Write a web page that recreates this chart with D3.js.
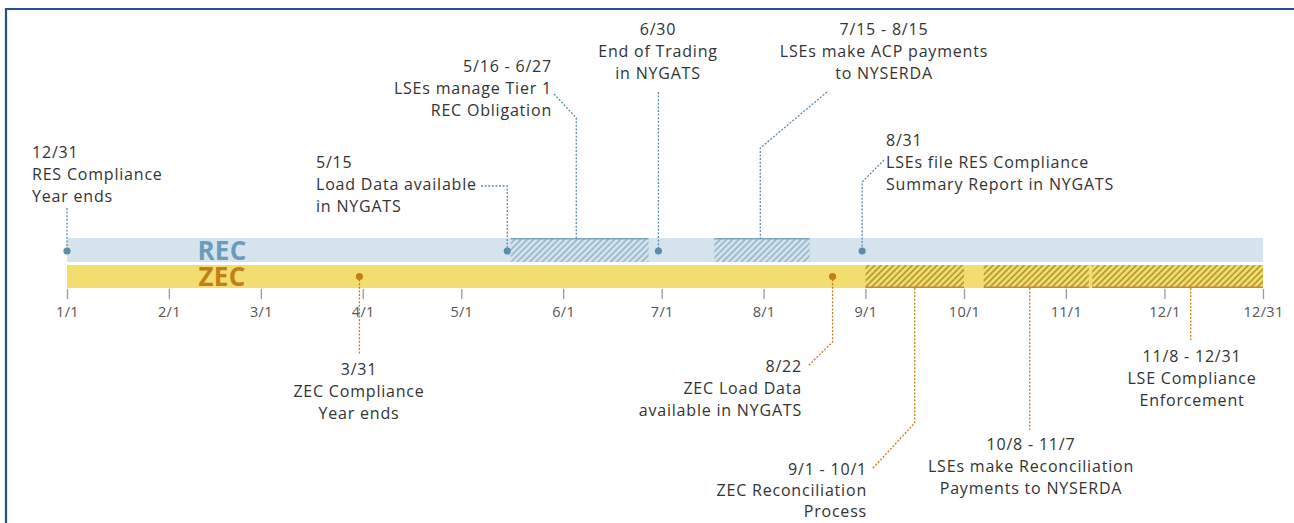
<!DOCTYPE html>
<html>
<head>
<meta charset="utf-8">
<script src="https://cdn.jsdelivr.net/npm/d3@7"></script>
<style>
  html, body { margin: 0; padding: 0; background: #fff; }
  svg { display: block; }
  text { font-family: "Open Sans", Lato, sans-serif; }
</style>
</head>
<body>
<svg id="chart" width="1294" height="523"></svg>
<script>
// ---------------- DATA ----------------
const YEAR = 2019;
const tickLabels = ["1/1","2/1","3/1","4/1","5/1","6/1","7/1","8/1","9/1","10/1","11/1","12/1","12/31"];
const trackNames = ["REC", "ZEC"];

// hatched periods (as drawn)
const recPeriodStarts = ["5/16", "7/17"];
const recPeriodEnds   = ["6/27", "8/15"];
const zecPeriodStarts = ["9/1", "10/7", "11/9"];
const zecPeriodEnds   = ["10/1", "11/8", "12/31"];

// milestone dots
const recPointDates = ["1/1", "5/15", "6/30", "8/31"];
const zecPointDates = ["3/31", "8/22"];

// annotations
const annotationDates = ["12/31", "5/15", "5/16 - 6/27", "6/30", "7/15 - 8/15", "8/31",
                         "3/31", "8/22", "9/1 - 10/1", "10/8 - 11/7", "11/8 - 12/31"];
const annotationTexts = [
  ["RES Compliance", "Year ends"],
  ["Load Data available", "in NYGATS"],
  ["LSEs manage Tier 1", "REC Obligation"],
  ["End of Trading", "in NYGATS"],
  ["LSEs make ACP payments", "to NYSERDA"],
  ["LSEs file RES Compliance", "Summary Report in NYGATS"],
  ["ZEC Compliance", "Year ends"],
  ["ZEC Load Data", "available in NYGATS"],
  ["ZEC Reconciliation", "Process"],
  ["LSEs make Reconciliation", "Payments to NYSERDA"],
  ["LSE Compliance", "Enforcement"]
];
const annotationTrack = ["REC","REC","REC","REC","REC","REC","ZEC","ZEC","ZEC","ZEC","ZEC"];
const leaderDates = ["1/1", "5/15", "6/5", "6/30", "7/31", "8/31", "3/31", "8/22", "9/16", "10/21", "12/9"];

// ---------------- LAYOUT ----------------
const md = s => { const [m, d] = s.split("/").map(Number); return new Date(YEAR, m - 1, d); };
const x = d3.scaleTime().domain([md("1/1"), md("12/31")]).range([67, 1263]);

const recY0 = 238, recY1 = 262, zecY0 = 265, zecY1 = 288;
const axisY = 289;
const colors = {
  recBar: "#d5e3ec", zecBar: "#f3dd6e",
  recText: "#6c9cbd", zecText: "#c27f16",
  recDot: "#5a8dab", zecDot: "#c47d17",
  recHatch: "#93b6cb", zecHatch: "#b0952a",
  recEdge: "#7ea5be", zecEdge: "#c48e22",
  text: "#333333", tick: "#9a9a9a", tickText: "#555", frame: "#24518c"
};

// text layout per annotation: [textX, firstLineCenterY, anchor, lineGap]
const textLayout = [
  [32, 152, "start", 22], [316, 162, "start", 22], [552, 66, "end", 22], [658, 29, "middle", 22],
  [884, 29, "middle", 22], [886, 140, "start", 22], [359, 369, "middle", 22], [802, 366, "end", 22],
  [867, 469, "end", 21], [1031, 444, "middle", 22], [1192, 356, "middle", 22]
];
// leader geometry: "L" = x of leader date
const leaderLayout = [
  [["L",208],["L",252]],
  [[481,186],["L",186],["L",252]],
  [[554,94],["L",118],["L",239]],
  [["L",92],["L",252]],
  [[827,92],["L",148],["L",239]],
  [[884,160],["L",182],["L",252]],
  [["L",276],["L",355]],
  [["L",276],["L",342],[808,366]],
  [["L",288],["L",423],[873,468]],
  [["L",288],["L",430]],
  [["L",288],["L",340]]
];

// ---------------- DRAW ----------------
const svg = d3.select("#chart");
const defs = svg.append("defs");
function hatch(id, bg, fg) {
  const p = defs.append("pattern").attr("id", id).attr("patternUnits", "userSpaceOnUse")
    .attr("width", 4.4).attr("height", 4.4).attr("patternTransform", "rotate(45)");
  p.append("rect").attr("width", 4.4).attr("height", 4.4).attr("fill", bg);
  p.append("line").attr("x1", 1).attr("y1", 0).attr("x2", 1).attr("y2", 4.4)
    .attr("stroke", fg).attr("stroke-width", 1.6);
}
hatch("recHatch", colors.recBar, colors.recHatch);
hatch("zecHatch", colors.zecBar, colors.zecHatch);

// frame
svg.append("path").attr("d", "M6,523 L6,9 L1294,9").attr("fill", "none")
  .attr("stroke", colors.frame).attr("stroke-width", 2.2);

// base bars
svg.append("rect").attr("x", x(md("1/1"))).attr("y", recY0)
  .attr("width", x(md("12/31")) - x(md("1/1"))).attr("height", recY1 - recY0).attr("fill", colors.recBar);
svg.append("rect").attr("x", x(md("1/1"))).attr("y", zecY0)
  .attr("width", x(md("12/31")) - x(md("1/1"))).attr("height", zecY1 - zecY0).attr("fill", colors.zecBar);

// hatched periods
recPeriodStarts.forEach((s, i) => {
  const x0 = x(md(s)), x1 = x(md(recPeriodEnds[i]));
  svg.append("rect").attr("x", x0).attr("y", recY0 + 1).attr("width", x1 - x0).attr("height", recY1 - recY0 - 1)
    .attr("fill", "url(#recHatch)");
  svg.append("line").attr("x1", x0).attr("x2", x1).attr("y1", recY0 + 0.75).attr("y2", recY0 + 0.75)
    .attr("stroke", colors.recEdge).attr("stroke-width", 1.5);
});
zecPeriodStarts.forEach((s, i) => {
  const x0 = x(md(s)), x1 = x(md(zecPeriodEnds[i]));
  svg.append("rect").attr("x", x0).attr("y", zecY0).attr("width", x1 - x0).attr("height", zecY1 - zecY0 - 1)
    .attr("fill", "url(#zecHatch)");
  svg.append("line").attr("x1", x0).attr("x2", x1).attr("y1", zecY1 - 0.75).attr("y2", zecY1 - 0.75)
    .attr("stroke", colors.zecEdge).attr("stroke-width", 1.5);
});

// track labels
svg.append("text").attr("x", 222).attr("y", (recY0 + recY1) / 2 + 0.5).attr("dy", "0.35em")
  .attr("text-anchor", "middle").attr("font-size", 26).attr("font-weight", 700).attr("letter-spacing", 0.3)
  .attr("fill", colors.recText).text(trackNames[0]);
svg.append("text").attr("x", 222).attr("y", (zecY0 + zecY1) / 2 + 0.5).attr("dy", "0.35em")
  .attr("text-anchor", "middle").attr("font-size", 26).attr("font-weight", 700).attr("letter-spacing", 0.3)
  .attr("fill", colors.zecText).text(trackNames[1]);

// axis
const axis = d3.axisBottom(x).tickValues(tickLabels.map(md))
  .tickFormat((d, i) => tickLabels[i]).tickSize(10).tickPadding(8);
const ag = svg.append("g").attr("transform", `translate(0,${axisY})`).call(axis);
ag.select(".domain").remove();
ag.selectAll(".tick line").attr("stroke", colors.tick).attr("stroke-width", 1.3);
ag.selectAll(".tick text").attr("fill", colors.tickText).attr("font-size", 14.5).attr("letter-spacing", 0.3)
  .attr("font-family", "'Open Sans', Lato, sans-serif");

// leaders
const line = d3.line();
annotationDates.forEach((dstr, i) => {
  const L = x(md(leaderDates[i]));
  const pts = leaderLayout[i].map(([px, py]) => [px === "L" ? L : px, py]);
  const isRec = annotationTrack[i] === "REC";
  svg.append("path").attr("d", line(pts)).attr("fill", "none")
    .attr("stroke", isRec ? colors.recDot : colors.zecDot)
    .attr("stroke-width", 1.3).attr("stroke-dasharray", "2,1.6");
});

// dots
svg.selectAll(".recdot").data(recPointDates).join("circle").attr("class", "recdot")
  .attr("cx", d => x(md(d))).attr("cy", (recY0 + recY1) / 2 + 1).attr("r", 3.6).attr("fill", colors.recDot);
svg.selectAll(".zecdot").data(zecPointDates).join("circle").attr("class", "zecdot")
  .attr("cx", d => x(md(d))).attr("cy", (zecY0 + zecY1) / 2).attr("r", 3.6).attr("fill", colors.zecDot);

// annotation texts
annotationDates.forEach((dstr, i) => {
  const [tx, ty, anchor, gap] = textLayout[i];
  const lines = [dstr].concat(annotationTexts[i]);
  const t = svg.append("text").attr("text-anchor", anchor).attr("font-size", 16)
    .attr("letter-spacing", 0.8).attr("fill", colors.text);
  lines.forEach((l, j) => {
    t.append("tspan").attr("x", tx).attr("y", ty + j * gap).attr("dy", "0.35em").text(l);
  });
});
</script>
</body>
</html>
